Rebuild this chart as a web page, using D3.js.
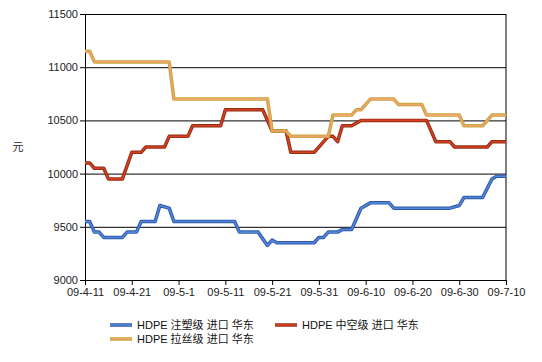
<!DOCTYPE html>
<html>
<head>
<meta charset="utf-8">
<script src="https://cdn.jsdelivr.net/npm/d3@7"></script>
<style>
  body { margin: 0; background: #fff; }
  svg { font-family: "Liberation Sans", Arial, sans-serif; }
</style>
</head>
<body>
<script>

    // tick labels
    var xTicks = ["09-4-11", "09-4-21", "09-5-1", "09-5-11", "09-5-21", "09-5-31", "09-6-10", "09-6-20", "09-6-30", "09-7-10"];
    var yTicks = [9000, 9500, 10000, 10500, 11000, 11500];

    // HDPE 注塑级 进口 华东 (blue)
    var injDates = ["09-4-11", "09-4-12", "09-4-13", "09-4-14", "09-4-15", "09-4-19", "09-4-20", "09-4-22", "09-4-23", "09-4-26",
                    "09-4-27", "09-4-29", "09-4-30", "09-5-13", "09-5-14", "09-5-18", "09-5-20", "09-5-21", "09-5-22", "09-5-30",
                    "09-5-31", "09-6-1", "09-6-2", "09-6-4", "09-6-5", "09-6-7", "09-6-9", "09-6-11", "09-6-15", "09-6-16",
                    "09-6-28", "09-6-30", "09-7-1", "09-7-5", "09-7-7", "09-7-8", "09-7-10"];
    var injValues = [9550, 9550, 9450, 9450, 9400, 9400, 9450, 9450, 9550, 9550,
                     9700, 9675, 9550, 9550, 9450, 9450, 9325, 9375, 9350, 9350,
                     9400, 9400, 9450, 9450, 9475, 9475, 9675, 9725, 9725, 9675,
                     9675, 9700, 9775, 9775, 9950, 9975, 9975];

    // HDPE 中空级 进口 华东 (red)
    var blowDates = ["09-4-11", "09-4-12", "09-4-13", "09-4-15", "09-4-16", "09-4-19", "09-4-21", "09-4-23", "09-4-24", "09-4-28",
                     "09-4-29", "09-5-3", "09-5-4", "09-5-10", "09-5-11", "09-5-19", "09-5-21", "09-5-24", "09-5-25", "09-5-30",
                     "09-6-2", "09-6-3", "09-6-4", "09-6-5", "09-6-7", "09-6-9", "09-6-23", "09-6-25", "09-6-28", "09-6-29",
                     "09-7-6", "09-7-7", "09-7-10"];
    var blowValues = [10100, 10100, 10050, 10050, 9950, 9950, 10200, 10200, 10250, 10250,
                      10350, 10350, 10450, 10450, 10600, 10600, 10400, 10400, 10200, 10200,
                      10350, 10350, 10300, 10450, 10450, 10500, 10500, 10300, 10300, 10250,
                      10250, 10300, 10300];

    // HDPE 拉丝级 进口 华东 (orange)
    var yarnDates = ["09-4-11", "09-4-12", "09-4-13", "09-4-29", "09-4-30", "09-5-20", "09-5-21", "09-5-24", "09-5-25", "09-6-2",
                     "09-6-3", "09-6-7", "09-6-8", "09-6-9", "09-6-11", "09-6-16", "09-6-17", "09-6-22", "09-6-23", "09-6-30",
                     "09-7-1", "09-7-5", "09-7-7", "09-7-10"];
    var yarnValues = [11150, 11150, 11050, 11050, 10700, 10700, 10400, 10400, 10350, 10350,
                      10550, 10550, 10600, 10600, 10700, 10700, 10650, 10650, 10550, 10550,
                      10450, 10450, 10550, 10550];

    var parse = d3.timeParse("%y-%m-%d");

    var series = [
        { name: "HDPE 注塑级 进口 华东", dates: injDates, values: injValues, edge: "#2f55a4", core: "#4f88dd" },
        { name: "HDPE 中空级 进口 华东", dates: blowDates, values: blowValues, edge: "#8e2c16", core: "#d8401f" },
        { name: "HDPE 拉丝级 进口 华东", dates: yarnDates, values: yarnValues, edge: "#c4a53e", core: "#f2a56a" }
    ];

    var margin = {top: 14, right: 36, bottom: 82, left: 85};
    var width = 542 - margin.left - margin.right,
        height = 362 - margin.top - margin.bottom;

    var svg = d3.select("body")
    .append("svg")
    .attr("width", 542)
    .attr("height", 362);

    var g = svg.append("g")
    .attr("transform", "translate(" + margin.left + "," + margin.top + ")");

    var x = d3.scaleTime()
    .domain([parse(xTicks[0]), parse(xTicks[xTicks.length - 1])])
    .range([0, width]);

    var y = d3.scaleLinear()
    .domain([9000, 11500])
    .range([height, 0]);

    // gridlines
    g.append("g")
    .attr("class", "grid")
    .call(d3.axisLeft(y).tickValues(yTicks).tickSize(-width).tickFormat(""))
    .call(function(s) {
        s.select(".domain").remove();
        s.selectAll("line").attr("stroke", "#000").attr("stroke-width", 1);
    });

    // y axis
    g.append("g")
    .attr("class", "y axis")
    .call(d3.axisLeft(y).tickValues(yTicks).tickSize(5).tickPadding(2).tickFormat(d3.format("d")))
    .call(function(s) {
        s.select(".domain").attr("stroke", "#000");
        s.selectAll("text").attr("font-size", "11px").attr("fill", "#222")
         .attr("font-family", "Liberation Sans, Arial, sans-serif");
    });

    // x axis
    g.append("g")
    .attr("class", "x axis")
    .attr("transform", "translate(0," + height + ")")
    .call(d3.axisBottom(x).tickValues(xTicks.map(parse)).tickSize(5).tickPadding(3)
        .tickFormat(d3.timeFormat("%y-%-m-%-d")))
    .call(function(s) {
        s.select(".domain").attr("stroke", "#000");
        s.selectAll("text").attr("font-size", "11px").attr("fill", "#222")
         .attr("font-family", "Liberation Sans, Arial, sans-serif");
    });

    // right border
    g.append("line")
    .attr("x1", width).attr("x2", width)
    .attr("y1", 0).attr("y2", height)
    .attr("stroke", "#000");

    // lines
    var line = d3.line()
    .x(function(d) { return x(d.date); })
    .y(function(d) { return y(d.value); });

    series.forEach(function(s) {
        var pts = s.dates.map(function(d, i) { return { date: parse(d), value: s.values[i] }; });
        g.append("path").datum(pts)
        .attr("fill", "none").attr("stroke", s.edge).attr("stroke-width", 3.5)
        .attr("stroke-linejoin", "round")
        .attr("d", line);
        g.append("path").datum(pts)
        .attr("fill", "none").attr("stroke", s.core).attr("stroke-width", 1.6)
        .attr("stroke-linejoin", "round")
        .attr("d", line);
    });

    // y title
    svg.append("text")
    .attr("x", 18)
    .attr("y", 147)
    .attr("text-anchor", "middle")
    .attr("dy", "0.35em")
    .attr("font-size", "11px")
    .attr("font-family", "Noto Sans CJK SC, sans-serif")
    .attr("fill", "#222")
    .text("元");

    // legend
    var legendPos = [[110, 325], [275, 325], [110, 339]];
    var legend = svg.selectAll(".legend")
    .data(series)
    .enter().append("g")
    .attr("class", "legend")
    .attr("transform", function(d, i) { return "translate(" + legendPos[i][0] + "," + legendPos[i][1] + ")"; });

    legend.append("line")
    .attr("x1", 0).attr("x2", 22)
    .attr("stroke", function(d) { return d.edge; })
    .attr("stroke-width", 3.5);

    legend.append("line")
    .attr("x1", 0).attr("x2", 22)
    .attr("stroke", function(d) { return d.core; })
    .attr("stroke-width", 1.6);

    legend.append("text")
    .attr("x", 27)
    .attr("dy", "0.35em")
    .attr("font-size", "11px")
    .attr("font-family", "Liberation Sans, Noto Sans CJK SC, sans-serif")
    .attr("fill", "#111")
    .text(function(d) { return d.name; });

</script>
</body>
</html>
